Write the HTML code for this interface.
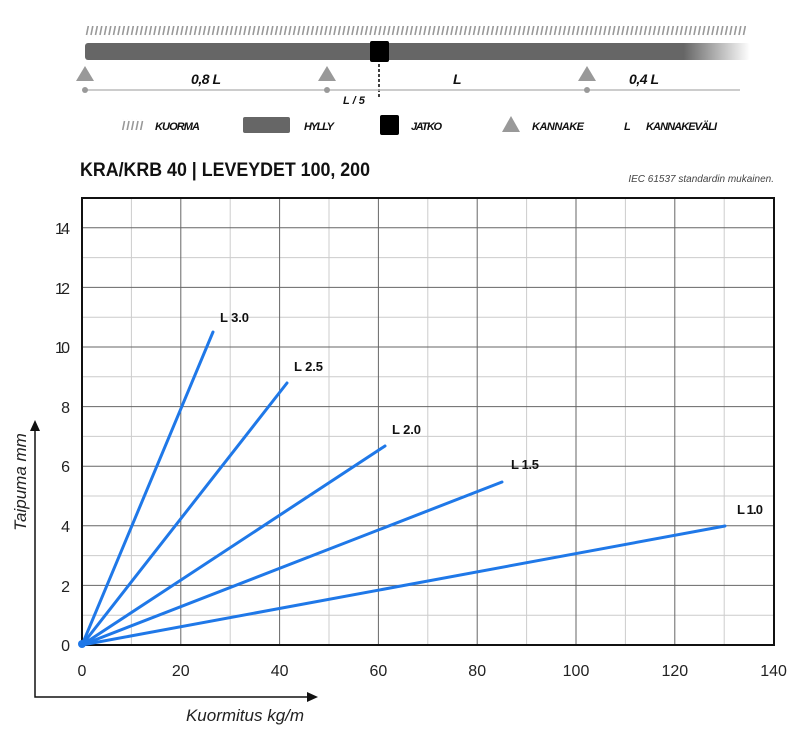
<!DOCTYPE html>
<html><head><meta charset="utf-8"><style>
html,body{margin:0;padding:0;background:#fff;}
svg{display:block;font-family:"Liberation Sans",sans-serif;}
</style></head><body>
<svg width="800" height="736" viewBox="0 0 800 736" xmlns="http://www.w3.org/2000/svg">
<defs>
<pattern id="h" width="4.5" height="12" patternUnits="userSpaceOnUse">
<line x1="1" y1="11" x2="3" y2="1" stroke="#999" stroke-width="1.6"/>
</pattern>
<linearGradient id="g" x1="0" x2="1">
<stop offset="0.9" stop-color="#666"/><stop offset="1" stop-color="#fff"/>
</linearGradient>
</defs>
<rect x="85" y="26" width="662" height="11" fill="url(#h)"/>
<rect x="85" y="43" width="665" height="17" rx="3" fill="url(#g)"/>
<rect x="370" y="41" width="19" height="21" rx="2" fill="#000"/>
<line x1="379" y1="64" x2="379" y2="97" stroke="#000" stroke-width="1.5" stroke-dasharray="3,2"/>
<polygon points="85,66 94,81 76,81" fill="#999"/>
<polygon points="327,66 336,81 318,81" fill="#999"/>
<polygon points="587,66 596,81 578,81" fill="#999"/>
<line x1="85" y1="90" x2="740" y2="90" stroke="#bbb" stroke-width="1.5"/>
<circle cx="85" cy="90" r="3" fill="#999"/><circle cx="327" cy="90" r="3" fill="#999"/><circle cx="587" cy="90" r="3" fill="#999"/>
<g font-weight="bold" font-style="italic" font-size="14" fill="#111">
<text x="191" y="84" textLength="30">0,8 L</text><text x="453" y="84">L</text><text x="629" y="84" textLength="30">0,4 L</text>
<text x="343" y="104" font-size="11">L / 5</text>
</g>
<rect x="122" y="119" width="22" height="11" fill="url(#h)"/>
<g font-weight="bold" font-style="italic" font-size="11" fill="#111">
<text x="155" y="130" textLength="45">KUORMA</text><text x="304" y="130" textLength="30">HYLLY</text><text x="411" y="130" textLength="31">JATKO</text>
<text x="532" y="130" textLength="52">KANNAKE</text><text x="624" y="130">L</text><text x="646" y="130" textLength="71">KANNAKEVÄLI</text>
</g>
<rect x="243" y="117" width="47" height="16" rx="2" fill="#666"/>
<rect x="380" y="115" width="19" height="20" rx="2" fill="#000"/>
<polygon points="511,116 520,132 502,132" fill="#999"/>
<text x="80" y="176" font-size="19" font-weight="bold" fill="#111" textLength="290" lengthAdjust="spacingAndGlyphs">KRA/KRB 40 | LEVEYDET 100, 200</text>
<text x="774" y="182" font-size="10" font-style="italic" fill="#444" text-anchor="end">IEC 61537 standardin mukainen.</text>
<g stroke="#ccc" stroke-width="1">
<line x1="131.4" y1="198" x2="131.4" y2="645"/><line x1="230.2" y1="198" x2="230.2" y2="645"/><line x1="329" y1="198" x2="329" y2="645"/><line x1="427.8" y1="198" x2="427.8" y2="645"/><line x1="526.6" y1="198" x2="526.6" y2="645"/><line x1="625.4" y1="198" x2="625.4" y2="645"/><line x1="724.2" y1="198" x2="724.2" y2="645"/>
<line x1="82" y1="615.2" x2="774" y2="615.2"/><line x1="82" y1="555.6" x2="774" y2="555.6"/><line x1="82" y1="496" x2="774" y2="496"/><line x1="82" y1="436.4" x2="774" y2="436.4"/><line x1="82" y1="376.8" x2="774" y2="376.8"/><line x1="82" y1="317.2" x2="774" y2="317.2"/><line x1="82" y1="257.6" x2="774" y2="257.6"/>
</g>
<g stroke="#666" stroke-width="1">
<line x1="180.8" y1="198" x2="180.8" y2="645"/><line x1="279.6" y1="198" x2="279.6" y2="645"/><line x1="378.4" y1="198" x2="378.4" y2="645"/><line x1="477.2" y1="198" x2="477.2" y2="645"/><line x1="576" y1="198" x2="576" y2="645"/><line x1="674.8" y1="198" x2="674.8" y2="645"/>
<line x1="82" y1="585.4" x2="774" y2="585.4"/><line x1="82" y1="525.8" x2="774" y2="525.8"/><line x1="82" y1="466.2" x2="774" y2="466.2"/><line x1="82" y1="406.6" x2="774" y2="406.6"/><line x1="82" y1="347" x2="774" y2="347"/><line x1="82" y1="287.4" x2="774" y2="287.4"/><line x1="82" y1="227.8" x2="774" y2="227.8"/>
</g>
<rect x="82" y="198" width="692" height="447" fill="none" stroke="#111" stroke-width="2"/>
<g stroke="#1f78e8" stroke-width="3" stroke-linecap="round">
<line x1="82" y1="645" x2="213" y2="332"/><line x1="82" y1="645" x2="287" y2="383"/><line x1="82" y1="645" x2="385" y2="446"/><line x1="82" y1="645" x2="502" y2="482"/><line x1="82" y1="645" x2="725" y2="526"/>
</g>
<circle cx="82" cy="644" r="4" fill="#1f78e8"/>
<g font-size="13" font-weight="bold" fill="#111">
<text x="220" y="322" textLength="29">L 3.0</text><text x="294" y="371" textLength="29">L 2.5</text><text x="392" y="434" textLength="29">L 2.0</text><text x="511" y="469" textLength="28">L 1.5</text><text x="737" y="514" textLength="26">L 1.0</text>
</g>
<g font-size="16" fill="#222" text-anchor="end">
<text x="70" y="651">0</text><text x="70" y="592">2</text><text x="70" y="532">4</text><text x="70" y="472">6</text><text x="70" y="413">8</text><text x="70" y="353" textLength="15">10</text><text x="70" y="294" textLength="15">12</text><text x="70" y="234" textLength="15">14</text>
</g>
<g font-size="16" fill="#222" text-anchor="middle">
<text x="82" y="676">0</text><text x="180.8" y="676">20</text><text x="279.6" y="676">40</text><text x="378.4" y="676">60</text><text x="477.2" y="676">80</text><text x="576" y="676">100</text><text x="674.8" y="676">120</text><text x="773.6" y="676">140</text>
</g>
<polyline points="35,430 35,697 310,697" fill="none" stroke="#111" stroke-width="1.5"/>
<polygon points="35,420 30,431 40,431" fill="#111"/>
<polygon points="318,697 307,692 307,702" fill="#111"/>
<text x="245" y="721" font-size="17" font-style="italic" fill="#222" text-anchor="middle">Kuormitus kg/m</text>
<text transform="translate(26,482) rotate(-90)" font-size="17" font-style="italic" fill="#222" text-anchor="middle">Taipuma mm</text>
</svg>
</body></html>
